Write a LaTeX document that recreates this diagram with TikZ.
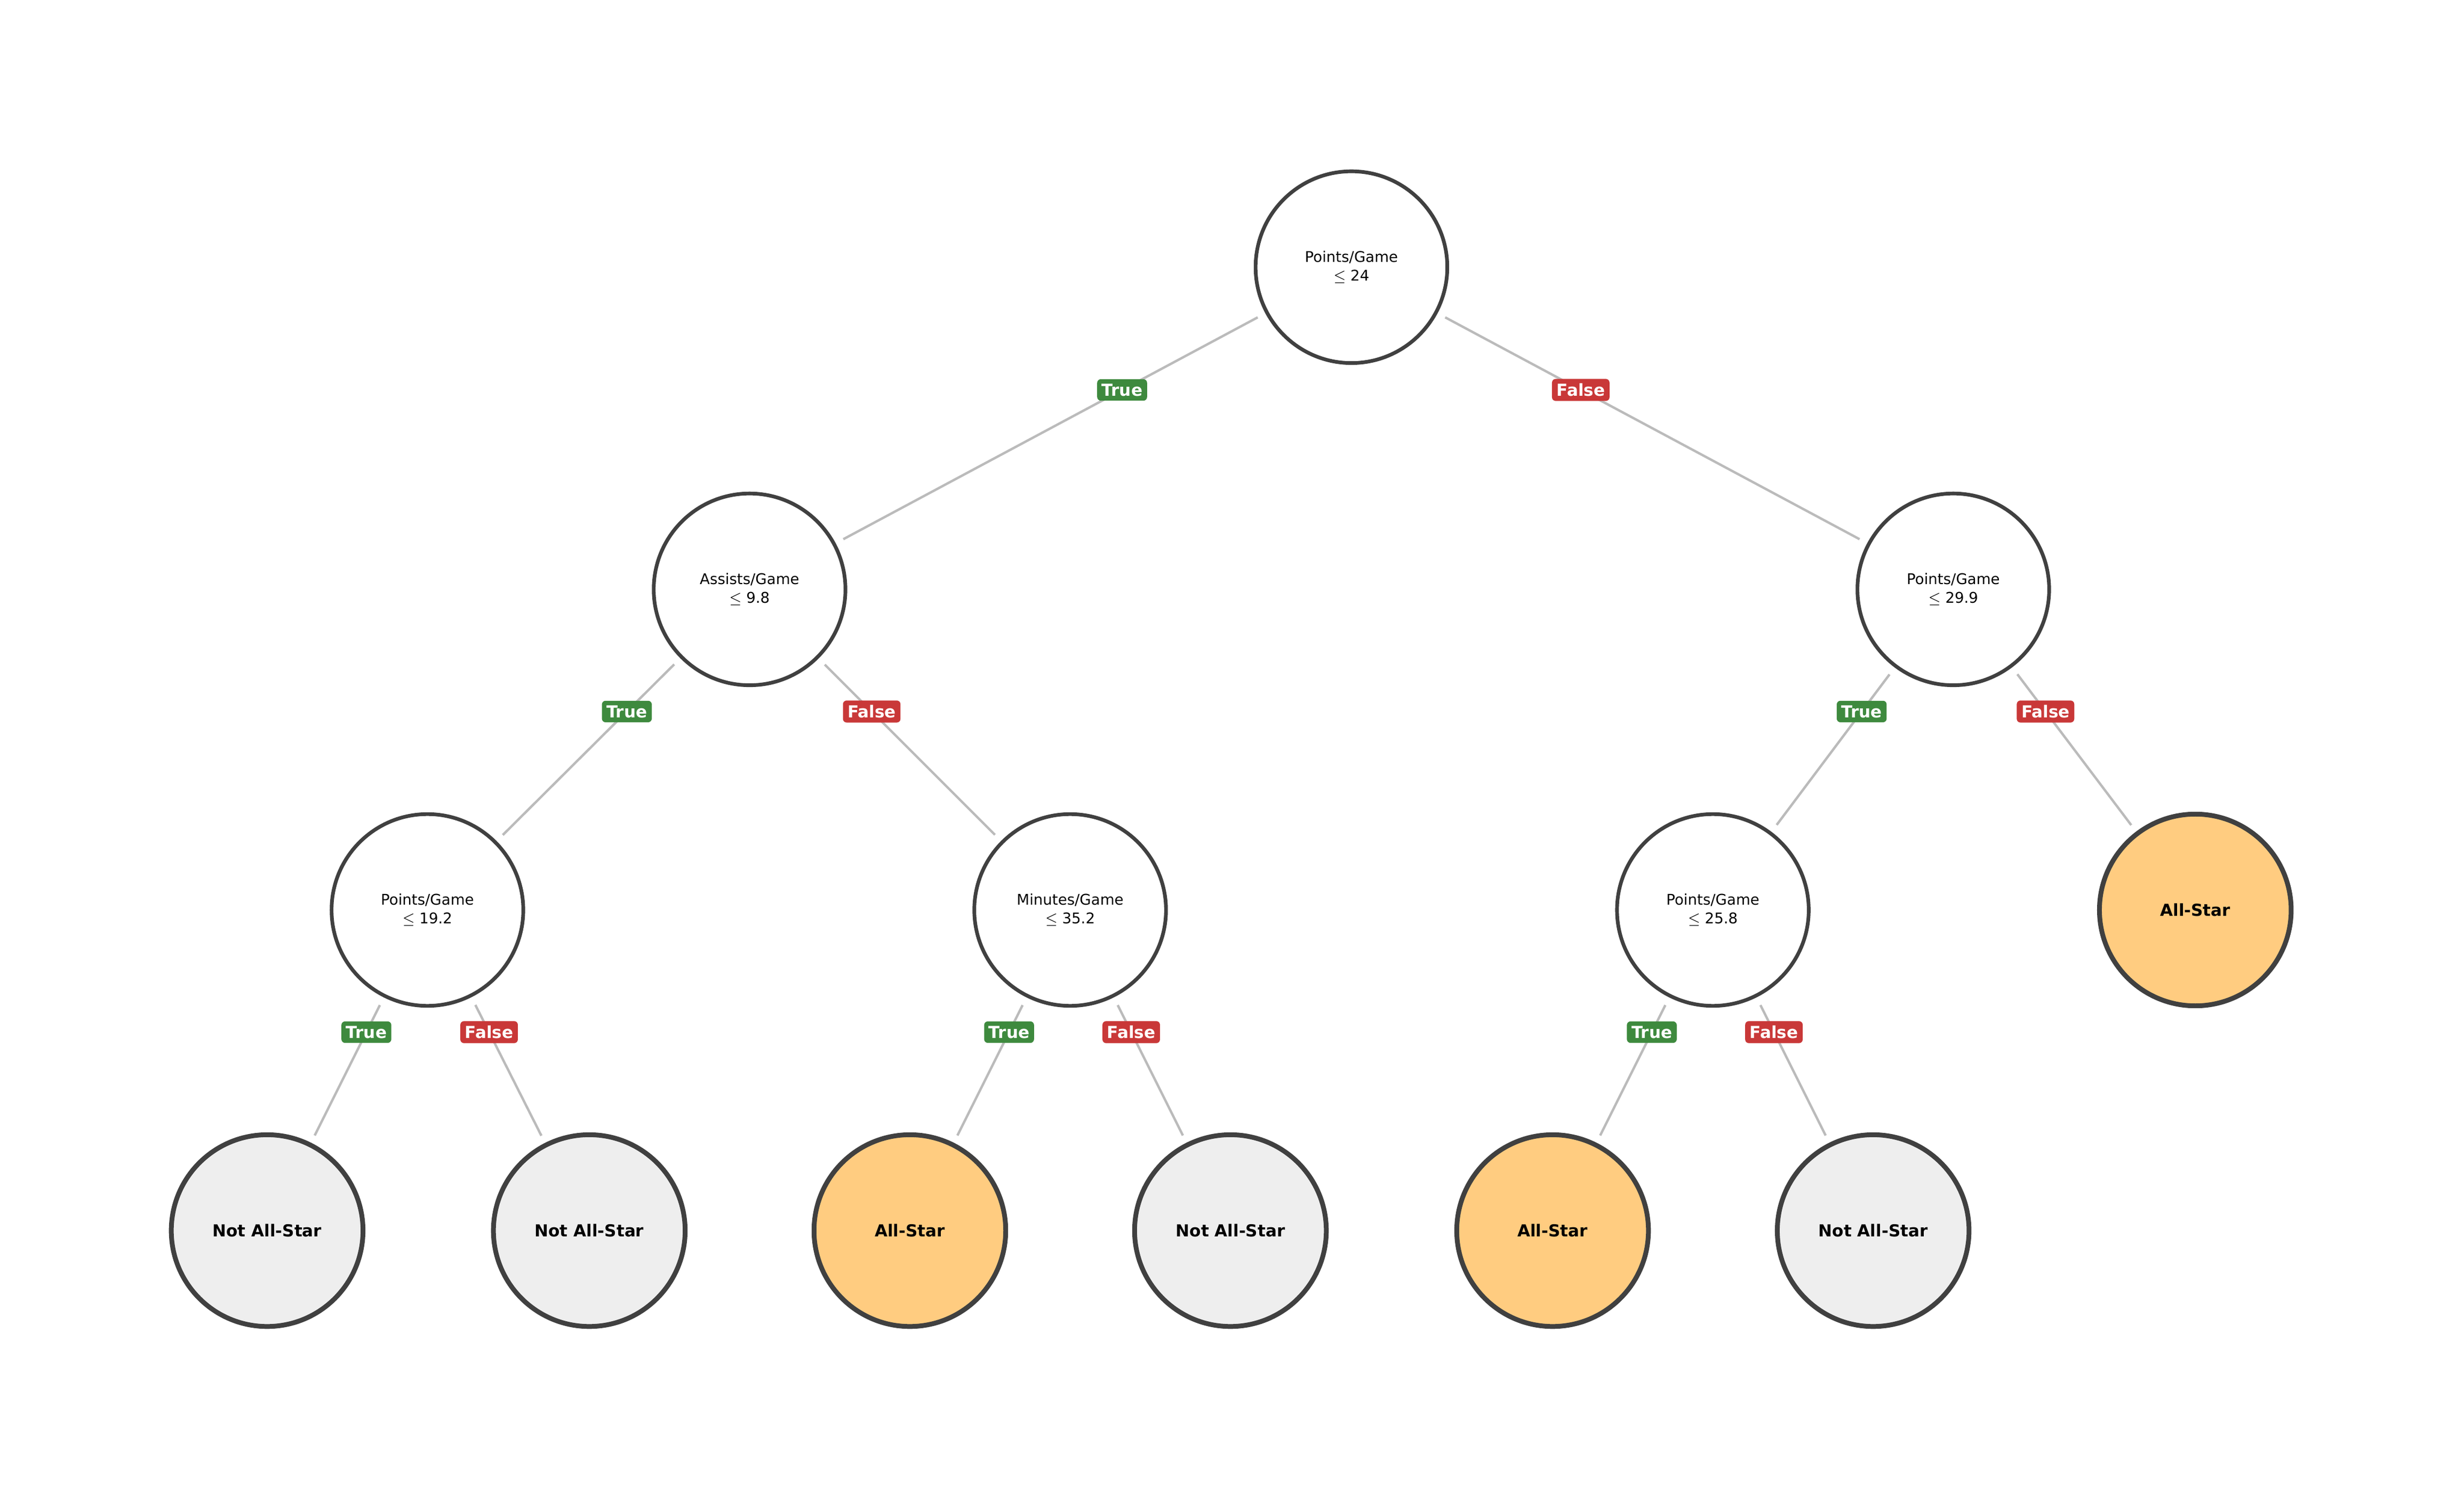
\documentclass[tikz,border=0pt]{standalone}
\usepackage{fontspec}
\setmainfont{DejaVu Sans}
\usetikzlibrary{calc}
\definecolor{edgegray}{HTML}{BBBBBB}
\definecolor{ringgray}{HTML}{404040}
\definecolor{leafgray}{HTML}{EEEEEE}
\definecolor{starorange}{HTML}{FFCC80}
\definecolor{truegreen}{HTML}{3E8A3E}
\definecolor{falsered}{HTML}{C93838}
\tikzset{
  /tikz/.cd,
  split/.style={circle,draw=ringgray,line width=2pt,fill=white,minimum size=3.66cm,inner sep=0pt,outer sep=0.2cm,align=center,font=\fontsize{8}{10}\selectfont},
  leaf/.style={split,line width=2.6pt,font=\fontsize{9}{11}\selectfont\bfseries},
  branch/.style={draw=edgegray,line width=1.3pt},
  yes/.style={fill=truegreen,text=white,rounded corners=2pt,inner sep=2.5pt,font=\fontsize{9}{10}\selectfont\bfseries},
  no/.style={yes,fill=falsered}
}
\begin{document}
\begin{tikzpicture}[x=0.03cm,y=-0.03cm]
      \useasboundingbox (0,0) rectangle (1568,955);

      \node[split] (root) at (860,170) {Points/Game\\$\le$ 24};
      \node[split] (ast) at (477,375) {Assists/Game\\$\le$ 9.8};
      \node[split] (pts) at (1243,375) {Points/Game\\$\le$ 29.9};
      \node[split] (ptsa) at (272,579) {Points/Game\\$\le$ 19.2};
      \node[split] (min) at (681,579) {Minutes/Game\\$\le$ 35.2};
      \node[split] (ptsb) at (1090,579) {Points/Game\\$\le$ 25.8};
      \node[leaf,fill=starorange] (starc) at (1397,579) {All-Star};
      \node[leaf,fill=leafgray] (nota) at (170,783) {Not All-Star};
      \node[leaf,fill=leafgray] (notb) at (375,783) {Not All-Star};
      \node[leaf,fill=starorange] (stara) at (579,783) {All-Star};
      \node[leaf,fill=leafgray] (notc) at (783,783) {Not All-Star};
      \node[leaf,fill=starorange] (starb) at (988,783) {All-Star};
      \node[leaf,fill=leafgray] (notd) at (1192,783) {Not All-Star};

      \foreach \p/\c/\s/\t in {root/ast/yes/True, root/pts/no/False,
                               ast/ptsa/yes/True, ast/min/no/False,
                               pts/ptsb/yes/True, pts/starc/no/False,
                               ptsa/nota/yes/True, ptsa/notb/no/False,
                               min/stara/yes/True, min/notc/no/False,
                               ptsb/starb/yes/True, ptsb/notd/no/False} {
        \draw[branch] (\p) -- (\c);
        \node[\s] (\p-\c) at ($(\p.center)!0.381!(\c.center)$) {\t};
      }
    \end{tikzpicture}
\end{document}
